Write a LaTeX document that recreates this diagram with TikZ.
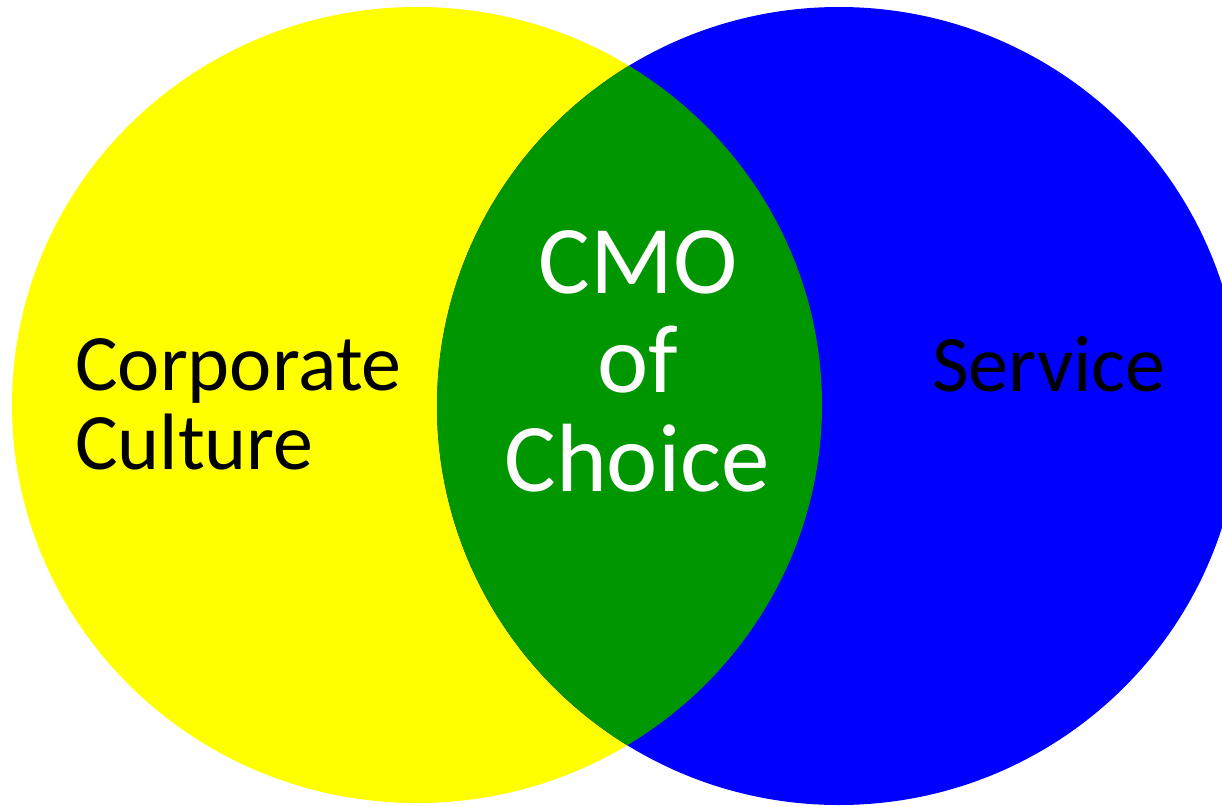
\documentclass[tikz,border=0pt]{standalone}
\usepackage{fontspec}
\setmainfont{Carlito}
\definecolor{vyellow}{RGB}{255,255,0}
\definecolor{vblue}{RGB}{0,0,255}
\definecolor{vgreen}{RGB}{0,150,0}
\begin{document}
\begin{tikzpicture}[x=1pt,y=-1pt,
  blacklabel/.style={inner sep=0pt,text=black,font=\fontsize{80}{80}\selectfont},
  whitelabel/.style={inner sep=0pt,text=white,font=\fontsize{97}{97}\selectfont}]
\useasboundingbox (0,0) rectangle (1222,805);
\clip (0,0) rectangle (1222,805);
\fill[vyellow] (417,405) ellipse [x radius=405, y radius=398];
\fill[vblue] (839,406) ellipse [x radius=402, y radius=399];
\begin{scope}
  \clip (417,405) ellipse [x radius=405, y radius=398];
  \fill[vgreen] (839,406) ellipse [x radius=402, y radius=399];
\end{scope}
\node[blacklabel,anchor=base west] (corp) at (75,390) {Corporate};
\node[blacklabel,anchor=base west] (cult) at (75,469) {Culture};
\node[blacklabel,anchor=base west] (serv) at (932,391) {Service};
\node[whitelabel,anchor=base] (cmo) at (638,293) {CMO};
\node[whitelabel,anchor=base] (of) at (638,392) {of};
\node[whitelabel,anchor=base] (choice) at (637,491) {Choice};
\end{tikzpicture}
\end{document}
